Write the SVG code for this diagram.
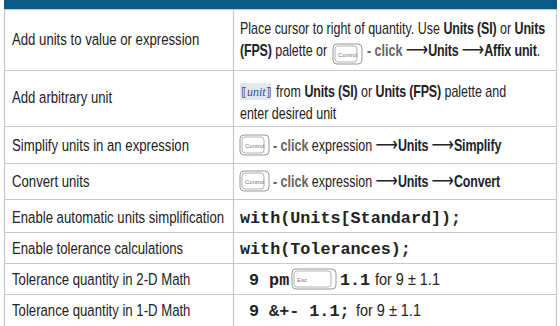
<svg xmlns="http://www.w3.org/2000/svg" width="560" height="326" viewBox="0 0 560 326">
<style>
.grid{stroke:#c8c8c8;stroke-width:1.2;fill:none}
.t{font-family:"Liberation Sans",Arial,sans-serif;font-size:17px;fill:#222}
.r{font-family:"Liberation Sans",Arial,sans-serif;font-size:16px;fill:#222}
.b{font-weight:bold;letter-spacing:-0.2px}
.g{font-weight:bold;fill:#666}
.ar{font-family:"DejaVu Sans",sans-serif;font-size:20px}
.m{font-family:"Liberation Mono","Courier New",monospace;font-size:16.75px;font-weight:bold;fill:#222}
.key{fill:#fff;stroke:#8a8a8a;stroke-width:0.9}
.keyi{fill:none;stroke:#a0a0a0;stroke-width:0.8}
.kl{font-family:"Liberation Sans",Arial,sans-serif;font-size:6px;fill:#777}
</style>
<rect x="4" y="0" width="553" height="9" fill="#0a5a87"/>
<g id="grid">
<line class="grid" x1="4.5" y1="9" x2="4.5" y2="326"/>
<line class="grid" x1="556.5" y1="9" x2="556.5" y2="326"/>
<line class="grid" x1="233.5" y1="9" x2="233.5" y2="326"/>
<line class="grid" x1="4" y1="9.6" x2="557" y2="9.6"/>
<line class="grid" x1="4" y1="70.5" x2="557" y2="70.5"/>
<line class="grid" x1="4" y1="126.5" x2="557" y2="126.5"/>
<line class="grid" x1="4" y1="163.5" x2="557" y2="163.5"/>
<line class="grid" x1="4" y1="199.5" x2="557" y2="199.5"/>
<line class="grid" x1="4" y1="232.5" x2="557" y2="232.5"/>
<line class="grid" x1="4" y1="263.5" x2="557" y2="263.5"/>
<line class="grid" x1="4" y1="294.5" x2="557" y2="294.5"/>
</g>
<g id="row1">
<text class="t" transform="translate(12,45) scale(0.775,1)">Add units to value or expression</text>
<text class="r" transform="translate(240,34) scale(0.78,1)">Place cursor to right of quantity. Use <tspan class="b">Units (SI)</tspan> or <tspan class="b">Units</tspan></text>
<text class="r" transform="translate(240,56) scale(0.78,1)"><tspan class="b">(FPS)</tspan> palette or</text>
<g id="key1"><rect class="key" x="333" y="44" width="29" height="20" rx="4"/><rect class="keyi" x="335" y="46" width="22" height="16" rx="3"/><text class="kl" x="338" y="56.5">Control</text></g>
<text class="r" transform="translate(367,56) scale(0.78,1)"><tspan class="g">- click </tspan><tspan class="ar">⟶</tspan><tspan class="b">Units </tspan><tspan class="ar">⟶</tspan><tspan class="b">Affix unit</tspan>.</text>
</g>
<g id="row2">
<text class="t" transform="translate(12,103) scale(0.775,1)">Add arbitrary unit</text>
<rect x="240" y="83" width="31" height="17" fill="#e3e8ef"/>
<text x="241" y="96" font-family="DejaVu Sans,sans-serif" font-size="12" fill="#222">⟦<tspan font-family="Liberation Serif,serif" font-style="italic" fill="#2b4fa8">unit</tspan>⟧</text>
<text class="r" transform="translate(276,97) scale(0.78,1)">from <tspan class="b">Units (SI)</tspan> or <tspan class="b">Units (FPS)</tspan> palette and</text>
<text class="r" transform="translate(240,119) scale(0.78,1)">enter desired unit</text>
</g>
<g id="row3">
<text class="t" transform="translate(12,151) scale(0.775,1)">Simplify units in an expression</text>
<g id="key2"><rect class="key" x="240" y="135" width="29" height="20" rx="4"/><rect class="keyi" x="242" y="137" width="22" height="16" rx="3"/><text class="kl" x="245" y="147.5">Control</text></g>
<text class="r" transform="translate(273,151) scale(0.78,1)"><tspan class="g">- click</tspan> expression <tspan class="ar">⟶</tspan><tspan class="b">Units </tspan><tspan class="ar">⟶</tspan><tspan class="b">Simplify</tspan></text>
</g>
<g id="row4">
<text class="t" transform="translate(12,187) scale(0.775,1)">Convert units</text>
<g id="key3"><rect class="key" x="240" y="171" width="29" height="20" rx="4"/><rect class="keyi" x="242" y="173" width="22" height="16" rx="3"/><text class="kl" x="245" y="183.5">Control</text></g>
<text class="r" transform="translate(273,187) scale(0.78,1)"><tspan class="g">- click</tspan> expression <tspan class="ar">⟶</tspan><tspan class="b">Units </tspan><tspan class="ar">⟶</tspan><tspan class="b">Convert</tspan></text>
</g>
<g id="row5">
<text class="t" transform="translate(12,223) scale(0.775,1)">Enable automatic units simplification</text>
<text class="m" x="240" y="222.5">with(Units[Standard]);</text>
</g>
<g id="row6">
<text class="t" transform="translate(12,254) scale(0.775,1)">Enable tolerance calculations</text>
<text class="m" x="240" y="253.5">with(Tolerances);</text>
</g>
<g id="row7">
<text class="t" transform="translate(12,285) scale(0.775,1)">Tolerance quantity in 2-D Math</text>
<text class="m" x="249" y="284.5">9 pm</text>
<g id="key4"><rect class="key" x="292" y="269" width="44" height="20" rx="4"/><rect class="keyi" x="294" y="271" width="37" height="16" rx="3"/><text class="kl" x="297" y="281.5">Esc</text></g>
<text class="m" x="340" y="284.5">1.1</text>
<text class="t" transform="translate(375,285) scale(0.85,1)">for 9 ± 1.1</text>
</g>
<g id="row8">
<text class="t" transform="translate(12,316) scale(0.775,1)">Tolerance quantity in 1-D Math</text>
<text class="m" x="249" y="315.5">9 &amp;+- 1.1;</text>
<text class="t" transform="translate(356,316) scale(0.85,1)">for 9 ± 1.1</text>
</g>
</svg>
